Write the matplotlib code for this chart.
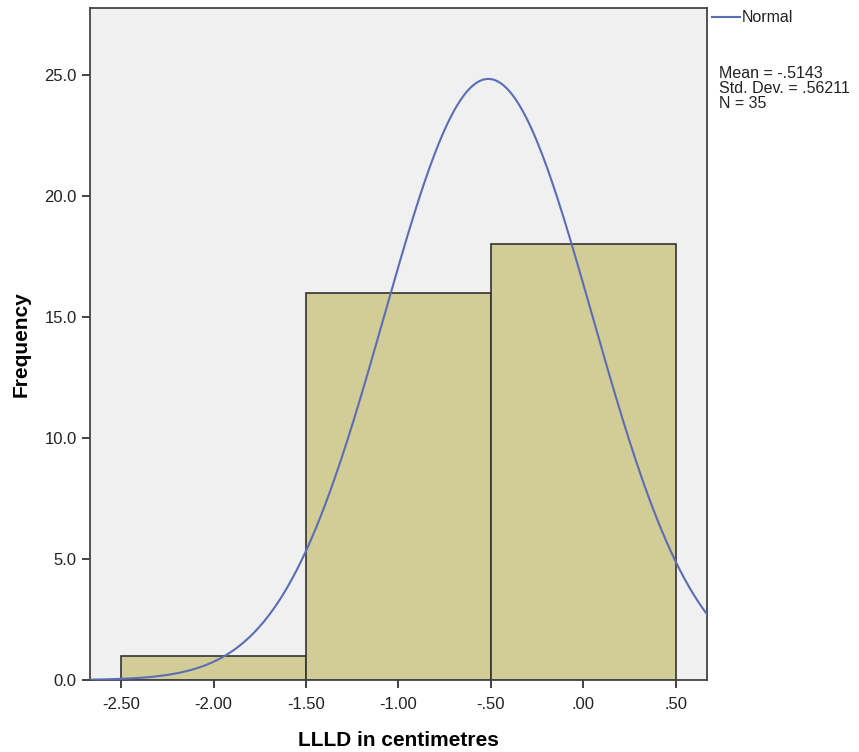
import numpy as np
import matplotlib.pyplot as plt

plt.rcParams['font.family'] = ['Liberation Sans', 'DejaVu Sans']

# histogram data
bin_edges = [-2.5, -1.5, -0.5, 0.5]
counts = [1, 16, 18]

# normal fit stats shown by SPSS
mean = -0.5143
std_dev = 0.56211
n = 35

x_ticks = [-2.5, -2.0, -1.5, -1.0, -0.5, 0.0, 0.5]
x_tick_labels = ['-2.50', '-2.00', '-1.50', '-1.00', '-.50', '.00', '.50']
y_ticks = [0, 5, 10, 15, 20, 25]
y_tick_labels = ['0.0', '5.0', '10.0', '15.0', '20.0', '25.0']

fig = plt.figure(figsize=(8.59, 7.52), dpi=100)
ax = fig.add_axes([0.1048, 0.0957, 0.7182, 0.8936])
ax.set_facecolor('#f0f0f0')

widths = np.diff(bin_edges)
ax.bar(bin_edges[:-1], counts, width=widths, align='edge',
       color='#d2cd96', edgecolor='#333333', linewidth=1.2, zorder=2)

# fitted normal curve scaled to counts (bin width 1)
xs = np.linspace(-2.7, 0.7, 400)
bw = widths[0]
ys = n * bw / (std_dev * np.sqrt(2 * np.pi)) * np.exp(-0.5 * ((xs - mean) / std_dev) ** 2)
ax.plot(xs, ys, color='#5b6db5', linewidth=1.5, zorder=3)

ax.set_xlim(-2.668, 0.668)
ax.set_ylim(0, 27.77)
ax.set_xticks(x_ticks)
ax.set_xticklabels(x_tick_labels)
ax.set_yticks(y_ticks)
ax.set_yticklabels(y_tick_labels)
ax.tick_params(labelsize=12, colors='#222222', length=6, width=1.2, direction='out')
ax.tick_params(axis='x', pad=6)
for s in ax.spines.values():
    s.set_color('#444444')
    s.set_linewidth(1.3)

ax.set_xlabel('LLLD in centimetres', fontsize=15, fontweight='bold', labelpad=14)
ax.set_ylabel('Frequency', fontsize=15, fontweight='bold', labelpad=10)

# legend / stats outside plot
fig.lines.append(plt.Line2D([712 / 859, 740 / 859], [1 - 17 / 752, 1 - 17 / 752],
                            color='#5b6db5', linewidth=1.5, transform=fig.transFigure))
fig.text(742 / 859, 1 - 18 / 752, 'Normal', fontsize=11.5, va='center', ha='left', color='#222222')
fig.text(719 / 859, 1 - 66 / 752, 'Mean = -.5143\nStd. Dev. = .56211\nN = 35',
         fontsize=11.5, va='top', ha='left', color='#222222', linespacing=1.0)

fig.savefig('out.png', dpi=100)
